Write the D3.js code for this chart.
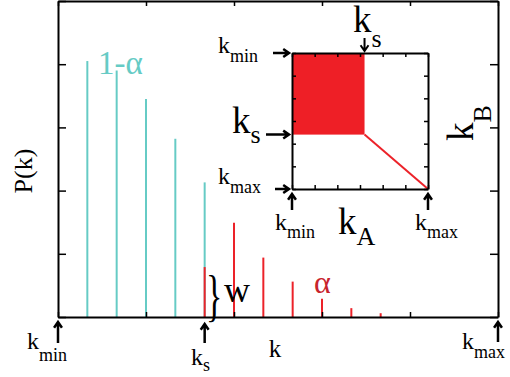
<!DOCTYPE html>
<html><head><meta charset="utf-8">
<script src="https://cdn.jsdelivr.net/npm/d3@7"></script>
<style>
html,body{margin:0;padding:0;background:#fff;}
</style></head>
<body><svg id="c" width="510" height="377" font-family="'Liberation Serif', 'Times New Roman', Times, 'DejaVu Serif', serif"></svg>
<script>
// ---- data ----
const cyanK = [1, 2, 3, 4, 5];
const cyanP = [4.05, 3.90, 3.45, 2.82, 2.13];
const redK = [5, 6, 7, 8, 9, 10, 11];
const redP = [0.79, 1.49, 0.94, 0.56, 0.29, 0.14, 0.06];
const xTicks = [0, 3, 6, 9, 12, 15];
const yTicks = [0, 1, 2, 3, 4, 5];
const kS = 5;                 // k_s position on main axis
const insetTicks = [0, 1, 2, 3, 4, 5, 6];
const insetKsA = 3.2, insetKsB = 3.6; // k_s in inset (0..6)
const insetMax = 6;

const CYAN = "#66CBC5", RED = "#EC2229", FILL = "#EE1F26", DARKRED = "#C8242C";
const FONT = "'Liberation Serif', 'Times New Roman', Times, 'DejaVu Serif', serif";
const svg = d3.select("#c");

// ---- main scales ----
const x = d3.scaleLinear().domain([0, 15]).range([58, 498]);
const y = d3.scaleLinear().domain([0, 5]).range([317, 1]);

// bars
svg.selectAll("line.cy").data(cyanK).join("line").attr("class","cy")
  .attr("x1", d => x(d)).attr("x2", d => x(d))
  .attr("y1", y(0)).attr("y2", (d,i) => y(cyanP[i]))
  .attr("stroke", CYAN).attr("stroke-width", 2);
svg.selectAll("line.rd").data(redK).join("line").attr("class","rd")
  .attr("x1", d => x(d)).attr("x2", d => x(d))
  .attr("y1", y(0)).attr("y2", (d,i) => y(redP[i]))
  .attr("stroke", RED).attr("stroke-width", 2);

// axes (ticks inward)
const gB = svg.append("g").attr("transform", `translate(0,${y(0)})`)
  .call(d3.axisBottom(x).tickValues(xTicks).tickSizeInner(-5).tickSizeOuter(0).tickFormat(""));
const gT = svg.append("g").attr("transform", `translate(0,${y(5)})`)
  .call(d3.axisTop(x).tickValues(xTicks).tickSizeInner(-5).tickSizeOuter(0).tickFormat(""));
const gL = svg.append("g").attr("transform", `translate(${x(0)},0)`)
  .call(d3.axisLeft(y).tickValues(yTicks).tickSizeInner(-8).tickSizeOuter(0).tickFormat(""));
const gR = svg.append("g").attr("transform", `translate(${x(15)},0)`)
  .call(d3.axisRight(y).tickValues(yTicks).tickSizeInner(-8).tickSizeOuter(0).tickFormat(""));
[gB,gT,gL,gR].forEach(g => {
  g.select(".domain").attr("stroke","#000").attr("stroke-width",2);
  g.selectAll(".tick line").attr("stroke","#000").attr("stroke-width",1.5);
});

// ---- helpers ----
function arrow(x1, y1, x2, y2, w) {
  const ang = Math.atan2(y2 - y1, x2 - x1), L = 7, a = 0.6;
  const p = d3.path();
  p.moveTo(x1, y1); p.lineTo(x2, y2);
  p.moveTo(x2 - L*Math.cos(ang - a), y2 - L*Math.sin(ang - a));
  p.lineTo(x2, y2);
  p.lineTo(x2 - L*Math.cos(ang + a), y2 - L*Math.sin(ang + a));
  svg.append("path").attr("d", p.toString()).attr("fill","none")
    .attr("stroke","#000").attr("stroke-width", w || 2.5);
}
function label(px, py, main, sub, fs, sfs, dy, anchor, color) {
  const t = svg.append("text").attr("x", px).attr("y", py)
    .attr("font-family", FONT)
    .attr("font-size", fs).attr("fill", color || "#000").attr("text-anchor", anchor || "start");
  t.append("tspan").text(main);
  if (sub) t.append("tspan").attr("font-size", sfs).attr("dy", dy).text(sub);
  return t;
}

// ---- main labels ----
label(98, 74, "1-\u03B1", null, 33, 0, 0, "start", CYAN);
label(314, 293, "\u03B1", null, 32, 0, 0, "start", DARKRED);
svg.append("text").attr("x", 0).attr("y", 0).attr("font-size", 40)
  .attr("font-family", FONT).attr("dominant-baseline", "central")
  .attr("transform", "translate(206,296) scale(0.85,1.4)").text("}");
label(224, 302, "w", null, 36);
svg.append("text").attr("transform", "translate(32,171) rotate(-90)")
  .attr("font-family", FONT)
  .attr("text-anchor","middle").attr("font-size", 26).text("P(k)");
label(275, 357, "k", null, 25, 0, 0, "middle");

// bottom arrows + labels
arrow(x(0), 343, x(0), 322);
label(27, 349, "k", "min", 24, 18, 12);
arrow(x(kS), 343, x(kS), 324);
label(191, 365, "k", "s", 24, 18, 6);
arrow(x(15), 342, x(15), 322);
label(462, 349, "k", "max", 24, 18, 9);

// ---- inset ----
const ix = d3.scaleLinear().domain([0, insetMax]).range([292, 428]);
const iy = d3.scaleLinear().domain([0, insetMax]).range([53, 189]);

svg.append("rect").attr("x", ix(0)).attr("y", iy(0))
  .attr("width", ix(insetKsA) - ix(0)).attr("height", iy(insetKsB) - iy(0))
  .attr("fill", FILL);
svg.append("line").attr("x1", ix(insetKsA)).attr("y1", iy(insetKsB))
  .attr("x2", ix(insetMax)).attr("y2", iy(insetMax))
  .attr("stroke", RED).attr("stroke-width", 2);

const iB = svg.append("g").attr("transform", `translate(0,${iy(insetMax)})`)
  .call(d3.axisBottom(ix).tickValues(insetTicks).tickSizeInner(-4).tickSizeOuter(0).tickFormat(""));
const iT = svg.append("g").attr("transform", `translate(0,${iy(0)})`)
  .call(d3.axisTop(ix).tickValues(insetTicks).tickSizeInner(-4).tickSizeOuter(0).tickFormat(""));
const iL = svg.append("g").attr("transform", `translate(${ix(0)},0)`)
  .call(d3.axisLeft(iy).tickValues(insetTicks).tickSizeInner(-4).tickSizeOuter(0).tickFormat(""));
const iR = svg.append("g").attr("transform", `translate(${ix(insetMax)},0)`)
  .call(d3.axisRight(iy).tickValues(insetTicks).tickSizeInner(-4).tickSizeOuter(0).tickFormat(""));
[iB,iT,iL,iR].forEach(g => {
  g.select(".domain").attr("stroke","#000").attr("stroke-width",2);
  g.selectAll(".tick line").attr("stroke","#000").attr("stroke-width",1.5);
});

// inset labels and arrows
label(218, 53, "k", "min", 24, 18, 9);
arrow(273, iy(0), 289, iy(0));
label(232, 133, "k", "s", 37, 26, 10);
arrow(266, iy(insetKsB), 289, iy(insetKsB));
label(218, 184, "k", "max", 24, 18, 9);
arrow(275, iy(insetMax), 289, iy(insetMax));

label(353, 32, "k", "s", 37, 26, 15);
arrow(ix(insetKsA), 38, ix(insetKsA), 51, 2);

arrow(ix(0), 210, ix(0), 194);
label(275, 230, "k", "min", 24, 18, 8);
arrow(ix(insetMax), 210, ix(insetMax), 194);
label(415, 230, "k", "max", 24, 18, 8);
label(338, 234, "k", "A", 37, 26, 11);

svg.append("text").attr("transform", "translate(473,141) rotate(-90)")
  .attr("font-family", FONT)
  .attr("font-size", 37)
  .call(t => { t.append("tspan").text("k");
               t.append("tspan").attr("font-size", 26).attr("dy", 18).text("B"); });
</script></body></html>
